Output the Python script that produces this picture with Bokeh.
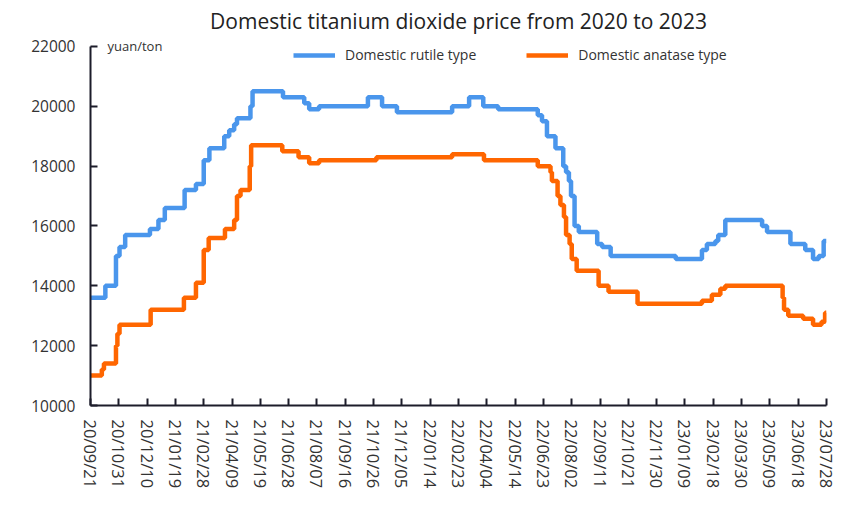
import pandas as pd
from bokeh.plotting import figure
from bokeh.models import FixedTicker, DatetimeTickFormatter, Legend, LegendItem, Label, Range1d
from bokeh.embed import file_html
from bokeh.resources import INLINE

title_text = "Domestic titanium dioxide price from 2020 to 2023"
unit_text = "yuan/ton"

tick_labels = ["20/09/21", "20/10/31", "20/12/10", "21/01/19", "21/02/28", "21/04/09",
               "21/05/19", "21/06/28", "21/08/07", "21/09/16", "21/10/26", "21/12/05",
               "22/01/14", "22/02/23", "22/04/04", "22/05/14", "22/06/23", "22/08/02",
               "22/09/11", "22/10/21", "22/11/30", "23/01/09", "23/02/18", "23/03/30",
               "23/05/09", "23/06/18", "23/07/28"]
y_ticks = [10000, 12000, 14000, 16000, 18000, 20000, 22000]

rutile_dates = ["2020-09-21", "2020-10-12", "2020-10-27", "2020-11-01", "2020-11-09",
                "2020-12-14", "2020-12-26", "2021-01-04", "2021-02-01", "2021-02-17",
                "2021-02-28", "2021-03-08", "2021-03-29", "2021-04-05", "2021-04-12",
                "2021-04-16", "2021-05-05", "2021-05-08", "2021-06-20", "2021-07-20",
                "2021-07-27", "2021-08-10", "2021-10-18", "2021-11-07", "2021-11-28",
                "2022-02-14", "2022-03-10", "2022-03-30", "2022-04-20", "2022-06-15",
                "2022-06-21", "2022-06-28", "2022-07-10", "2022-07-21", "2022-07-25",
                "2022-07-29", "2022-08-01", "2022-08-06", "2022-08-12", "2022-09-07",
                "2022-09-14", "2022-09-26", "2022-12-27", "2023-02-02", "2023-02-09",
                "2023-02-21", "2023-02-25", "2023-03-07", "2023-04-28", "2023-05-05",
                "2023-06-07", "2023-06-28", "2023-07-09", "2023-07-17", "2023-07-24",
                "2023-07-28"]
rutile_prices = [13600, 14000, 15000, 15300, 15700,
                 15900, 16200, 16600, 17200, 17400,
                 18200, 18600, 19000, 19200, 19400,
                 19600, 20000, 20500, 20300, 20100,
                 19900, 20000, 20300, 20000, 19800,
                 20000, 20300, 20000, 19900, 19700,
                 19500, 19000, 18600, 18000, 17800,
                 17500, 17000, 16000, 15800, 15400,
                 15300, 15000, 14900, 15200, 15400,
                 15500, 15700, 16200, 16000, 15800,
                 15400, 15200, 14900, 15000, 15500,
                 15500]

anatase_dates = ["2020-09-21", "2020-10-07", "2020-10-10", "2020-10-27", "2020-10-29",
                 "2020-11-01", "2020-12-15", "2021-01-31", "2021-02-17", "2021-02-28",
                 "2021-03-07", "2021-03-30", "2021-04-12", "2021-04-16", "2021-04-21",
                 "2021-05-04", "2021-05-06", "2021-06-19", "2021-07-12", "2021-07-27",
                 "2021-08-10", "2021-10-30", "2022-02-14", "2022-03-31", "2022-06-15",
                 "2022-07-03", "2022-07-05", "2022-07-13", "2022-07-17", "2022-07-22",
                 "2022-07-25", "2022-07-30", "2022-08-02", "2022-08-09", "2022-09-09",
                 "2022-09-23", "2022-11-03", "2023-02-02", "2023-02-16", "2023-02-28",
                 "2023-03-07", "2023-05-27", "2023-05-29", "2023-06-04", "2023-06-25",
                 "2023-07-09", "2023-07-21", "2023-07-26", "2023-07-28"]
anatase_prices = [11000, 11200, 11400, 12000, 12400,
                  12700, 13200, 13600, 14100, 15200,
                  15600, 15900, 16200, 17000, 17200,
                  18000, 18700, 18500, 18300, 18100,
                  18200, 18300, 18400, 18200, 18000,
                  17800, 17500, 17000, 16700, 16300,
                  15700, 15400, 14900, 14500, 14000,
                  13800, 13400, 13500, 13700, 13900,
                  14000, 13600, 13200, 13000, 12900,
                  12700, 12800, 13100, 13100]

series_names = ["Domestic rutile type", "Domestic anatase type"]
series_colors = ["#4a96ec", "#ff6600"]

FONT = "Open Sans"
TEXT = "#333333"
AXIS = "#1c1c2a"

tick_dates = pd.to_datetime(tick_labels, format="%y/%m/%d")
tick_ms = [d.timestamp() * 1000 for d in tick_dates]

# frame extends a little above the top tick so the unit label is not clipped
y_top_room = 400

p = figure(width=843, height=500, x_axis_type="datetime",
           output_backend="svg", toolbar_location=None,
           x_range=Range1d(tick_dates[0].to_pydatetime(), tick_dates[-1].to_pydatetime()),
           y_range=Range1d(y_ticks[0], y_ticks[-1] + y_top_room),
           min_border_left=90, min_border_right=17, min_border_top=34, min_border_bottom=95)
p.outline_line_color = None
p.grid.visible = False
p.background_fill_color = "white"

r1 = p.step(pd.to_datetime(rutile_dates), rutile_prices, mode="after",
            line_color=series_colors[0], line_width=4.5)
r2 = p.step(pd.to_datetime(anatase_dates), anatase_prices, mode="after",
            line_color=series_colors[1], line_width=4.5)

for ax in (p.xaxis[0], p.yaxis[0]):
    ax.axis_line_color = AXIS
    ax.axis_line_width = 2
    ax.major_tick_line_color = AXIS
    ax.major_tick_line_width = 2
    ax.major_tick_in = 7
    ax.major_tick_out = 0
    ax.minor_tick_line_color = None
    ax.major_label_text_color = TEXT
    ax.major_label_text_font = FONT

p.yaxis.ticker = FixedTicker(ticks=y_ticks)
p.yaxis.bounds = (y_ticks[0], y_ticks[-1])
p.yaxis.major_label_text_font_size = "15.5px"
p.yaxis.major_label_standoff = 15

p.xaxis.ticker = FixedTicker(ticks=tick_ms)
fmt = "%y/%m/%d"
p.xaxis.formatter = DatetimeTickFormatter(days=fmt, months=fmt, years=fmt, hours=fmt,
                                          minutes=fmt, seconds=fmt, milliseconds=fmt,
                                          microseconds=fmt, hourmin=fmt, minsec=fmt)
p.xaxis.major_label_orientation = "vertical"
p.xaxis.major_label_text_font_size = "16.5px"
p.xaxis.major_label_standoff = 14

p.title.text = title_text
p.title.align = "center"
p.title.offset = -5
p.title.standoff = 0
p.title.text_font = FONT
p.title.text_font_size = "21px"
p.title.text_font_style = "normal"
p.title.text_color = "#222222"

p.add_layout(Label(x=tick_dates[0].to_pydatetime(), y=y_ticks[-1], x_offset=17, y_offset=0,
                   text=unit_text, text_font=FONT, text_font_size="13px",
                   text_color=TEXT, text_baseline="middle"))

legend = Legend(items=[LegendItem(label=series_names[0], renderers=[r1]),
                       LegendItem(label=series_names[1], renderers=[r2])],
                orientation="horizontal", location=(203, 341),
                glyph_width=42, glyph_height=14, label_height=14, label_standoff=10,
                spacing=50, padding=0, margin=0,
                label_text_font=FONT, label_text_font_size="14px", label_text_color=TEXT,
                border_line_color=None, background_fill_alpha=0)
p.add_layout(legend)

open("out.html", "w").write(file_html(p, INLINE))
